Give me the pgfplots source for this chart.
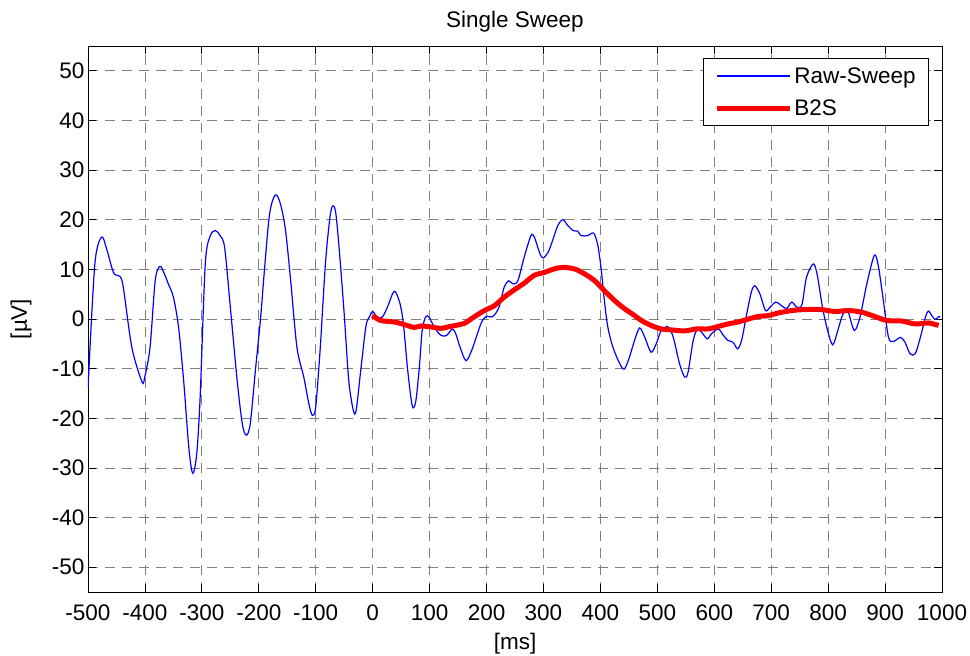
\documentclass[border=0pt]{standalone}
\usepackage{fontspec}
\setmainfont{Liberation Sans}
\usepackage{pgfplots}
\pgfplotsset{compat=1.18}
\newcommand{\fs}{\fontsize{22.5bp}{26bp}\selectfont}
\begin{document}
\begin{tikzpicture}
\useasboundingbox (-88bp,-64bp) rectangle (882bp,592bp);
\begin{axis}[
    at={(0,0)}, anchor=south west,
    scale only axis,
    width=854bp, height=546bp,
    xmin=-500, xmax=1000, ymin=-55, ymax=55,
    xtick={-500,-400,...,1000},
    ytick={-50,-40,...,50},
    /pgf/number format/assume math mode=true,
    /pgf/number format/1000 sep={},
    tick label style={font=\fs},
    xticklabel style={anchor=base, yshift=-28.5bp},
    label style={font=\fs},
    title style={font=\fs, at={(0.5,1)}, anchor=base, yshift=12.5bp},
    title={Single Sweep},
    xlabel={[ms]},
    xlabel style={at={(0.5,0)}, anchor=base, yshift=-57bp},
    ylabel={[µV]},
    ylabel style={at={(0,0.5)}, anchor=center, yshift=67bp},
    grid=major,
    major grid style={gray, line width=0.8bp, dash pattern=on 10bp off 7bp},
    tick align=inside,
    major tick length=8bp,
    tick style={black, line width=0.8bp},
    axis line style={black, line width=0.8bp},
    legend style={at={(1,1)}, anchor=north east, xshift=-13bp, yshift=-12bp,
        font=\fs, draw=black, line width=0.8bp, row sep=11bp,
        inner xsep=11bp, inner ysep=7bp},
    legend cell align=left,
    legend image code/.code={\draw[#1] (0bp,0bp) -- (73bp,0bp);},
]
\addplot[blue, line width=1.2bp, smooth] coordinates {
(-500,-14) (-488,11) (-476,16.5) (-467,14) (-455,9.3) (-444,8.6) (-438,6.4)
(-423,-5.7) (-405,-12.7) (-400,-11.5) (-391,-5.7) (-382,7.7) (-374,10.6)
(-367,9.4) (-359,7.1) (-350,4.4) (-341,-1.6) (-332,-12.4) (-323,-25.8)
(-316,-31.1) (-309,-27.1) (-303,-15.7) (-294,11.1) (-285,16.8) (-276,17.8)
(-268,16.8) (-260,14.4) (-250,2.4) (-238,-12.4) (-229,-21.1) (-222,-23.4)
(-215,-21.1) (-206,-10.4) (-197,0) (-190,10) (-181,21.2) (-171,25)
(-162,23.2) (-153,17.8) (-144,7.7) (-133,-5.7) (-121,-11.7) (-112,-17.1)
(-106,-19.4) (-100,-17.7) (-92,-5.7) (-83,11.1) (-75,20.5) (-70,22.8)
(-65,21.5) (-59,14.4) (-50,1) (-42,-12.4) (-34,-18.4) (-29,-18.4)
(-21,-10.4) (-12,-1.6) (-6,0.4) (0,1.5) (8,0.4) (17,0.4) (26,2.4) (35,5.1)
(40,5.5) (48,3.1) (54,-1) (61,-9.7) (67,-15.7) (71,-17.9) (76,-16.4)
(82,-9.7) (87,-2.3) (93,0.4) (99,0.4) (108,-1.6) (120,-3.3) (130,-3.3)
(140,-2) (146,-3) (153,-5.5) (164,-8.4) (175,-6) (190,-1) (199,0.5)
(211,0.5) (222,2.4) (231,6.4) (239,7.7) (246,7.1) (255,7.7) (266,12.4)
(278,16.8) (284,16.5) (293,13.4) (299,12.3) (308,13.4) (316,15.8)
(325,18.8) (334,20) (343,18.8) (352,17.8) (360,17.7) (366,16.8) (378,16.8)
(388,17.3) (395,15.1) (401,10.4) (407,3.7) (413,-1.6) (422,-5.7) (434,-9)
(442,-10.1) (451,-7.7) (460,-4.3) (469,-1.8) (478,-3.7) (489,-6.7)
(498,-5) (507,-2.3) (519,-1.6) (528,-3.7) (539,-9) (548,-11.7) (554,-10.7)
(563,-4.3) (571,-2) (580,-3) (588,-4) (595,-3) (607,-2) (616,-3.3)
(624,-4.3) (633,-4.7) (641,-6) (648,-4.3) (657,1) (665,5.4) (671,6.7)
(680,5.1) (690,1.7) (698,2.4) (708,3.4) (718,2.7) (727,2.1) (736,3.4)
(745,2.4) (754,2.9) (762,8.4) (774,11.1) (781,8.8) (790,2.4) (799,-2.3)
(808,-5.2) (817,-2.3) (826,1) (835,1.4) (846,-2.3) (856,0.4) (868,7.1)
(881,12.8) (888,10.8) (897,3.7) (906,-3.7) (915,-4.5) (927,-3.7)
(935,-4.7) (944,-7) (953,-7) (962,-3.7) (971,0.4) (976,1.6) (982,0.7)
(988,-0.1) (994,0.5) (997,0.4)
};
\addlegendentry{Raw-Sweep}
\addplot[red, line width=5bp, smooth] coordinates {
(0,0.7) (14,-0.3) (38,-0.6) (55,-1.1) (73,-1.7) (85,-1.4) (108,-1.7) (120,-1.9)
(132,-1.6) (150,-1.2) (161,-0.9) (178,0.4) (196,1.7) (214,2.7) (231,4.4)
(249,5.9) (266,7.2) (284,8.8) (302,9.4) (319,10.1) (334,10.4) (354,10.1)
(372,9.1) (390,7.7) (407,5.7) (425,3.7) (442,2.1) (460,0.7) (472,-0.3)
(489,-1.3) (507,-2) (525,-2.2) (548,-2.4) (569,-2) (589,-2) (607,-1.5)
(624,-1) (642,-0.6) (660,0) (677,0.5) (695,0.7) (712,1.2) (736,1.7)
(759,1.9) (788,1.9) (812,1.5) (835,1.7) (858,1.4) (882,0.5) (903,-0.3)
(929,-0.4) (953,-1) (976,-0.8) (994,-1.3)
};
\addlegendentry{B2S}
\end{axis}
\end{tikzpicture}
\end{document}
